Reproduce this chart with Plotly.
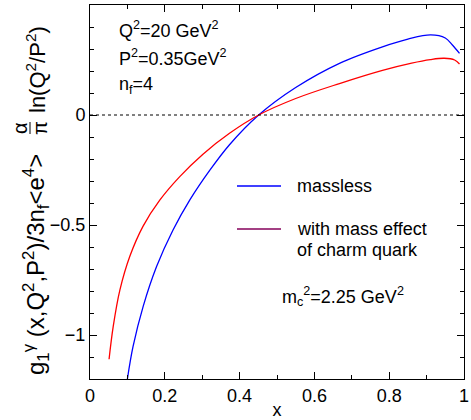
import plotly.graph_objects as go

# ---- data ----
massless_x = [0.100, 0.115, 0.142, 0.178, 0.222, 0.267, 0.320, 0.373, 0.451, 0.550, 0.667, 0.782, 0.850, 0.911, 0.950, 0.969, 0.988]
massless_y = [-1.200, -1.053, -0.871, -0.689, -0.523, -0.386, -0.252, -0.135, 0.000, 0.125, 0.235, 0.310, 0.345, 0.364, 0.350, 0.318, 0.280]

mass_x = [0.051, 0.062, 0.080, 0.107, 0.142, 0.187, 0.240, 0.302, 0.373, 0.451, 0.550, 0.667, 0.782, 0.860, 0.910, 0.947, 0.975, 0.988]
mass_y = [-1.110, -0.962, -0.795, -0.640, -0.505, -0.386, -0.280, -0.178, -0.083, 0.000, 0.075, 0.143, 0.203, 0.236, 0.252, 0.258, 0.250, 0.232]

x_ticks = [0, 0.2, 0.4, 0.6, 0.8, 1]
x_tick_labels = ["0", "0.2", "0.4", "0.6", "0.8", "1"]
y_ticks = [-1, -0.5, 0, 0.5]
y_tick_labels = ["\u22121", "\u22120.5", "0", "0.5"]

FONT = "Liberation Sans, Arial, sans-serif"
W, H = 471, 420
L, R, T, B = 90, 7, 5, 41
PW, PH = W - L - R, H - T - B


def px(xp):
    return (xp - L) / PW


def py(yp):
    return (H - B - yp) / PH


fig = go.Figure()
fig.add_trace(go.Scatter(x=massless_x, y=massless_y, mode="lines",
                         line=dict(color="#0000ff", width=1.3, shape="spline", smoothing=1.0),
                         showlegend=False, hoverinfo="skip"))
fig.add_trace(go.Scatter(x=mass_x, y=mass_y, mode="lines",
                         line=dict(color="#ff0000", width=1.3, shape="spline", smoothing=1.0),
                         showlegend=False, hoverinfo="skip"))

axis_common = dict(showgrid=False, zeroline=False, showline=True, linecolor="black",
                   linewidth=1, mirror="allticks", ticks="inside", ticklen=7,
                   tickcolor="black", tickfont=dict(family=FONT, size=18, color="black"))

fig.update_xaxes(range=[0, 1], tickvals=x_ticks, ticktext=x_tick_labels,
                 minor=dict(dtick=0.1, ticks="inside", ticklen=4, tickcolor="black"),
                 title=dict(text="x", font=dict(family=FONT, size=18, color="black"), standoff=0),
                 **axis_common)
fig.update_yaxes(range=[-1.2, 0.5], tickvals=y_ticks, ticktext=y_tick_labels,
                 minor=dict(dtick=0.1, ticks="inside", ticklen=4, tickcolor="black"),
                 **axis_common)

shapes = [
    dict(type="line", xref="paper", yref="y", x0=0, x1=1, y0=0, y1=0,
         line=dict(color="black", width=1, dash="dot")),
    dict(type="line", xref="paper", yref="paper", x0=px(237), x1=px(281), y0=py(186), y1=py(186),
         line=dict(color="#0000ff", width=1.5)),
    dict(type="line", xref="paper", yref="paper", x0=px(237), x1=px(281), y0=py(229), y1=py(229),
         line=dict(color="#85005a", width=1.5)),
    # fraction bar of alpha/pi in y title
    dict(type="line", xref="paper", yref="paper", x0=px(30), x1=px(30), y0=py(122), y1=py(134),
         line=dict(color="black", width=1)),
]

ann = []


def txt(s, xp, yp, xa="left", ya="middle", angle=0, size=18):
    ann.append(dict(text=s, xref="paper", yref="paper", x=px(xp), y=py(yp), xanchor=xa,
                    yanchor=ya, showarrow=False, textangle=angle,
                    font=dict(family=FONT, size=size, color="black")))


txt("Q<sup>2</sup>=20 GeV<sup>2</sup>", 117, 29)
txt("P<sup>2</sup>=0.35GeV<sup>2</sup>", 117, 57)
txt("n<sub>f</sub>=4", 117, 86)
txt("massless", 295, 186)
txt("with mass effect", 295, 229)
txt("of charm quark", 295, 250)
txt("m<sub>c</sub><sup>2</sup>=2.25 GeV<sup>2</sup>", 280, 296)

# y-axis title pieces (rotated)
txt("g<sub>1</sub><sup>\u03b3</sup> (x,Q<sup>2</sup>,P<sup>2</sup>)/3n<sub>f</sub>&lt;e<sup>4</sup>&gt;",
    36, 265, xa="center", ya="middle", angle=-90, size=24)
txt("\u03b1", 20, 128, xa="center", ya="middle", angle=-90, size=20)
txt("\u03c0", 40, 128, xa="center", ya="middle", angle=-90, size=20)
txt("ln(Q<sup>2</sup>/P<sup>2</sup>)", 36, 70, xa="center", ya="middle", angle=-90, size=22)

fig.update_layout(width=W, height=H, margin=dict(l=L, r=R, t=T, b=B, autoexpand=False),
                  plot_bgcolor="white", paper_bgcolor="white",
                  shapes=shapes, annotations=ann, showlegend=False)

fig.write_html("out.html", config={"displayModeBar": False},
               post_script="document.body.style.margin='0px';")
